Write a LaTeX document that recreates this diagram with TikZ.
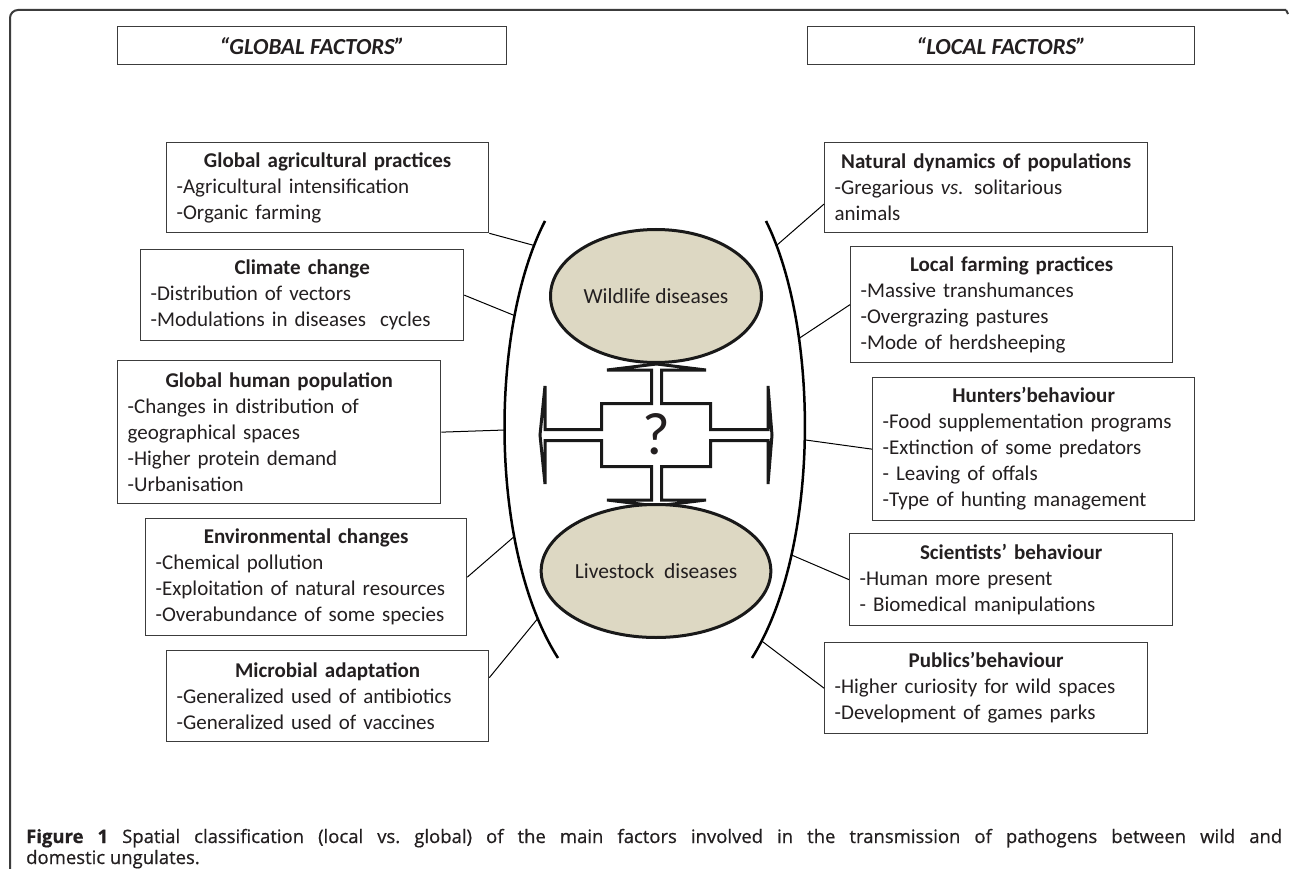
\documentclass[tikz,border=0pt]{standalone}
\usepackage{fontspec}
\setmainfont{Carlito}
\newfontfamily\capfont[FakeBold=0.6]{Open Sans}
\newfontfamily\capbold{Open Sans Bold}
\usetikzlibrary{shapes.geometric,calc}
\definecolor{tanfill}{RGB}{221,216,195}
\definecolor{ink}{RGB}{35,31,32}
\definecolor{boxc}{RGB}{60,60,60}
\newcommand\li[1]{\mbox{#1}}
\newcommand\ttl[1]{\makebox[\linewidth][c]{\bfseries #1}\\}
\begin{document}
\begin{tikzpicture}[x=1pt,y=-1pt,
  fbox/.style={draw=boxc, line width=1.3pt, fill=white, inner xsep=10pt, inner ysep=0pt, anchor=north west, align=left, text=ink, font=\fontsize{21pt}{26pt}\selectfont},
  hbox/.style={draw=boxc, line width=1.3pt, inner sep=0pt, anchor=north west, text=ink, font=\fontsize{23pt}{26pt}\selectfont\bfseries\itshape},
  dis/.style={ellipse, draw=black!90, line width=3pt, fill=tanfill, inner sep=0pt, minimum width=211pt, minimum height=133pt, text=ink, font=\fontsize{21.5pt}{26pt}\selectfont},
  conn/.style={draw=black, line width=1pt},
  arcline/.style={draw=black, line width=2.5pt},
  crossline/.style={draw=black!90, line width=3pt, fill=white, line join=miter},
]
\useasboundingbox (0,0) rectangle (1290,869);
\fill[white] (0,0) rectangle (1290,869);
% frame
\draw[boxc, line width=2pt, rounded corners=8pt] (10,869) -- (10,10) -- (1286,10);
\draw[boxc, line width=2pt] (1286,10) -- (1288,14);

% headers
\node[hbox, minimum width=389pt, minimum height=38pt] (gf) at (117,26) {\textquotedblleft GLOBAL FACTORS\textquotedblright};
\node[hbox, minimum width=387pt, minimum height=38pt] (lf) at (807,26) {\textquotedblleft LOCAL FACTORS\textquotedblright};

% arcs
\draw[arcline] (545,221) .. controls (489,330) and (489,550) .. (558,658)
  coordinate[pos=0.07] (la1) coordinate[pos=0.24] (la2) coordinate[pos=0.48] (la3)
  coordinate[pos=0.70] (la4) coordinate[pos=0.89] (la5);
\draw[arcline] (766,221) .. controls (820,330) and (820,550) .. (752,658)
  coordinate[pos=0.07] (ra1) coordinate[pos=0.29] (ra2) coordinate[pos=0.5] (ra3)
  coordinate[pos=0.74] (ra4) coordinate[pos=0.95] (ra5);

% left boxes
\node[fbox, minimum width=322pt, minimum height=90pt, text width=302pt] (agri) at (166,142)
  {\ttl{Global agricultural practices}\li{-Agricultural intensification}\\\li{-Organic farming}};
\node[fbox, minimum width=323pt, minimum height=91pt, text width=303pt] (clim) at (140,249)
  {\ttl{Climate change}\li{-Distribution of vectors}\\\li{-Modulations in diseases\ \ cycles}};
\node[fbox, minimum width=323pt, minimum height=143pt, text width=303pt] (hum) at (117,360)
  {\ttl{Global human population}\li{-Changes in distribution of}\\\li{geographical spaces}\\\li{-Higher protein demand}\\\li{-Urbanisation}};
\node[fbox, minimum width=321pt, minimum height=117pt, text width=301pt] (env) at (145,518)
  {\ttl{Environmental changes}\li{-Chemical pollution}\\\li{-Exploitation of natural resources}\\\li{-Overabundance of some species}};
\node[fbox, minimum width=322pt, minimum height=91pt, text width=302pt] (mic) at (166,650)
  {\ttl{Microbial adaptation}\li{-Generalized used of antibiotics}\\\li{-Generalized used of vaccines}};

% right boxes
\node[fbox, minimum width=323pt, minimum height=90pt, text width=303pt] (nd) at (824,142)
  {\ttl{Natural dynamics of populations}\li{-Gregarious \textit{vs.} solitarious}\\\li{animals}};
\node[fbox, minimum width=322pt, minimum height=116pt, text width=302pt] (lfp) at (850,246)
  {\ttl{Local farming practices}\li{-Massive transhumances}\\\li{-Overgrazing pastures}\\\li{-Mode of herdsheeping}};
\node[fbox, minimum width=322pt, minimum height=143pt, text width=302pt] (hun) at (872,377)
  {\ttl{Hunters\textquoteright behaviour}\li{-Food supplementation programs}\\\li{-Extinction of some predators}\\\li{- Leaving of offals}\\\li{-Type of hunting management}};
\node[fbox, minimum width=323pt, minimum height=92pt, text width=303pt] (sci) at (849,533)
  {\ttl{Scientists\textquoteright\ behaviour}\li{-Human more present}\\\li{- Biomedical manipulations}};
\node[fbox, minimum width=323pt, minimum height=91pt, text width=303pt] (pub) at (824,642)
  {\ttl{Publics\textquoteright behaviour}\li{-Higher curiosity for wild spaces}\\\li{-Development of games parks}};

% connectors
\coordinate (micp) at ($(mic.north east)!0.3!(mic.south east)$);
\coordinate (ndp) at ($(nd.north west)!0.68!(nd.south west)$);
\draw[conn] (agri.south east) -- (la1);
\draw[conn] (clim.east) -- (la2);
\draw[conn] (hum.east) -- (la3);
\draw[conn] (env.east) -- (la4);
\draw[conn] (micp) -- (la5);
\draw[conn] (ndp) -- (ra1);
\draw[conn] (lfp.west) -- (ra2);
\draw[conn] (hun.west) -- (ra3);
\draw[conn] (sci.west) -- (ra4);
\draw[conn] (pub.west) -- (ra5);

% central cross with four arrows
\draw[crossline] (651.5,403.5) -- (651.5,370) -- (607,370) -- (656.5,364) -- (706,370) -- (661.5,370)
  -- (661.5,403.5) -- (710.5,403.5) -- (710.5,429.5) -- (768,429.5) -- (768,386) -- (772,435)
  -- (768,484) -- (768,440.5) -- (710.5,440.5) -- (710.5,466.5) -- (661.5,466.5) -- (661.5,500)
  -- (706,500) -- (656.5,506) -- (607,500) -- (651.5,500) -- (651.5,466.5) -- (601.5,466.5)
  -- (601.5,440.5) -- (545,440.5) -- (545,484) -- (540,435) -- (545,386) -- (545,429.5)
  -- (601.5,429.5) -- (601.5,403.5) -- cycle;
\node[text=ink, font=\fontsize{60pt}{60pt}\selectfont, inner sep=0pt] (q) at (656,434) {?};

% diseases
\node[dis] (wd) at (656,296) {Wildlife diseases};
\node[dis] (ld) at (656,571) {Livestock\ \ diseases};

% caption
\node[anchor=base west, inner sep=0pt, text width=1256pt, align=justify, text=ink,
  font=\capfont\fontsize{18.5pt}{21pt}\selectfont\frenchspacing] (cap) at (26,843)
  {{\bfseries Figure 1} Spatial classification (local vs. global) of the main factors involved in the transmission of pathogens between wild and\linebreak domestic ungulates{\mdseries .}};
\end{tikzpicture}
\end{document}
